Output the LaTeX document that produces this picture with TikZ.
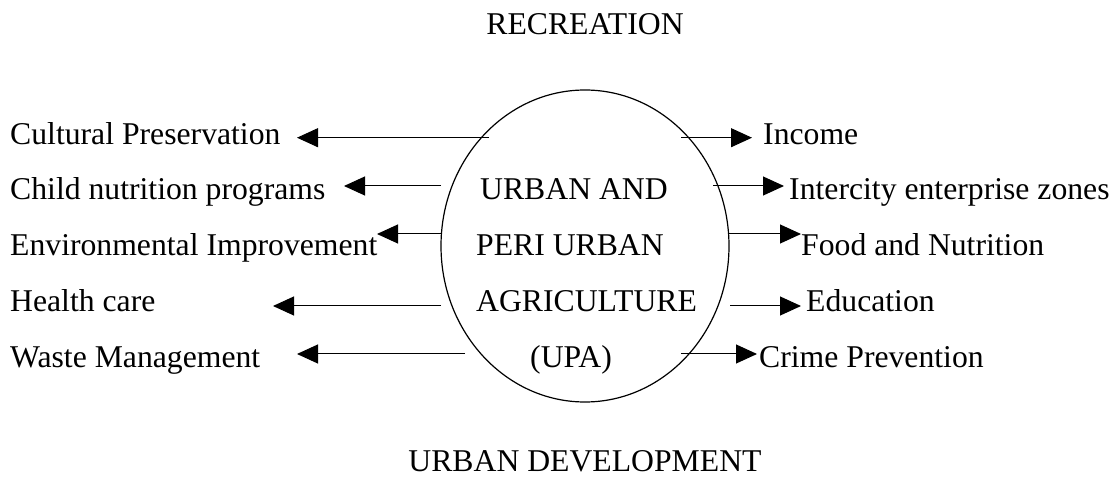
\documentclass[tikz,border=0pt]{standalone}
\usepackage{fontspec}
\setmainfont{Liberation Serif}
\usetikzlibrary{arrows.meta,shapes.geometric}
\begin{document}
\begin{tikzpicture}[x=1pt,y=-1pt,
  lbl/.style={anchor=base west,inner sep=0pt,font=\fontsize{31.7}{38}\selectfont},
  ttl/.style={anchor=base,inner sep=0pt,font=\fontsize{31.7}{38}\selectfont},
  arr/.style={line width=1pt,-{Triangle[length=21pt,width=19pt]}}]
\useasboundingbox (0,0) rectangle (1117,478);
% central ellipse
\node[draw,ellipse,line width=1.2pt,inner sep=0pt,minimum width=288pt,minimum height=312pt] (upa) at (585,246) {};
\node[lbl] (c1) at (480,200) {URBAN AND};
\node[lbl] (c2) at (476,256) {PERI URBAN};
\node[lbl] (c3) at (476,312) {AGRICULTURE};
\node[lbl] (c4) at (530,367) {(UPA)};
% titles
\node[ttl] (rec) at (585,35) {RECREATION};
\node[ttl] (dev) at (585,471) {URBAN DEVELOPMENT};
% left labels
\node[lbl] (l1) at (10,145) {Cultural Preservation};
\node[lbl] (l2) at (10,200) {Child nutrition programs};
\node[lbl] (l3) at (10,256) {Environmental Improvement};
\node[lbl] (l4) at (10,312) {Health care};
\node[lbl] (l5) at (10,367) {Waste Management};
% right labels
\node[lbl] (r1) at (763,145) {Income};
\node[lbl] (r2) at (789,200) {Intercity enterprise zones};
\node[lbl] (r3) at (801,256) {Food and Nutrition};
\node[lbl] (r4) at (806,312) {Education};
\node[lbl] (r5) at (759,367) {Crime Prevention};
% arrow end points
\coordinate (lt1) at (489,137.7); \coordinate (lh1) at (297,137.7);
\coordinate (lt2) at (441,186);   \coordinate (lh2) at (344,186);
\coordinate (lt3) at (441,234);   \coordinate (lh3) at (377,234);
\coordinate (lt4) at (441,306);   \coordinate (lh4) at (273,306);
\coordinate (lt5) at (465,354);   \coordinate (lh5) at (297,354);
\coordinate (rt1) at (681,137.7); \coordinate (rh1) at (752,137.7);
\coordinate (rt2) at (713,186);   \coordinate (rh2) at (784,186);
\coordinate (rt3) at (729,234);   \coordinate (rh3) at (801,234);
\coordinate (rt4) at (730,306);   \coordinate (rh4) at (801,306);
\coordinate (rt5) at (681,354);   \coordinate (rh5) at (757,354);
\foreach \i in {1,...,5}{
  \draw[arr] (lt\i) -- (lh\i);
  \draw[arr] (rt\i) -- (rh\i);
}
\end{tikzpicture}
\end{document}
